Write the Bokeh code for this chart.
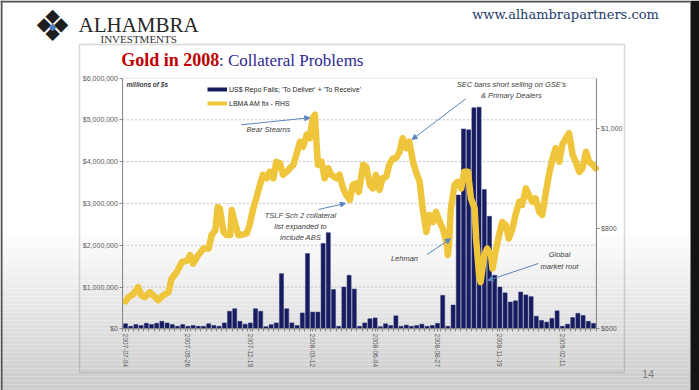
import numpy as np
import pandas as pd
from bokeh.plotting import figure
from bokeh.models import (Range1d, LinearAxis, FixedTicker, NumeralTickFormatter, Label,
                          Arrow, NormalHead, BoxAnnotation, Legend, LegendItem, ColumnDataSource)
from bokeh.embed import file_html
from bokeh.resources import INLINE

# ---------------- data ----------------
start_date = "2007-07-04"
n_weeks = 91
# US$ repo fails (millions of $), weekly from 2007-07-04
repo_fails_mm = [0.12, 0.06, 0.10, 0.08, 0.13, 0.10, 0.13, 0.18, 0.14, 0.10,
                 0.06, 0.10, 0.06, 0.08, 0.06, 0.06, 0.12, 0.08, 0.06, 0.14,
                 0.42, 0.48, 0.18, 0.11, 0.14, 0.48, 0.42, 0.05, 0.10, 0.14,
                 1.32, 0.48, 0.14, 0.08, 0.38, 1.80, 0.40, 0.40, 2.04, 2.30,
                 0.94, 0.06, 1.00, 1.28, 0.95, 0.06, 0.14, 0.24, 0.26, 0.05,
                 0.12, 0.08, 0.31, 0.06, 0.09, 0.06, 0.08, 0.11, 0.06, 0.08,
                 0.13, 0.80, 0.06, 0.57, 3.20, 4.78, 4.76, 5.29, 5.30, 3.33,
                 2.69, 1.28, 1.00, 0.86, 0.64, 0.67, 0.88, 0.81, 0.77, 0.30,
                 0.20, 0.16, 0.25, 0.43, 0.06, 0.11, 0.27, 0.37, 0.32, 0.18, 0.13]

gold_dates = [
    "2007-07-04", "2007-07-08", "2007-07-15", "2007-07-21", "2007-07-25", "2007-07-30",
    "2007-08-06", "2007-08-10", "2007-08-17", "2007-08-24", "2007-08-31",
    "2007-09-04", "2007-09-11", "2007-09-18", "2007-09-25", "2007-09-29",
    "2007-10-03", "2007-10-10", "2007-10-17", "2007-10-24", "2007-10-28",
    "2007-11-02", "2007-11-05", "2007-11-08", "2007-11-13", "2007-11-17", "2007-11-22", "2007-11-24", "2007-11-28",
    "2007-12-03", "2007-12-07", "2007-12-14", "2007-12-18", "2007-12-23", "2007-12-27",
    "2008-01-01", "2008-01-05", "2008-01-10", "2008-01-14", "2008-01-19", "2008-01-23", "2008-01-28",
    "2008-02-01", "2008-02-06", "2008-02-10", "2008-02-15", "2008-02-19", "2008-02-24", "2008-02-28",
    "2008-03-04", "2008-03-08", "2008-03-12", "2008-03-15", "2008-03-17", "2008-03-19", "2008-03-24", "2008-03-28",
    "2008-04-02", "2008-04-06", "2008-04-13", "2008-04-17", "2008-04-22", "2008-04-26",
    "2008-05-01", "2008-05-05", "2008-05-09", "2008-05-13", "2008-05-19", "2008-05-23", "2008-05-28",
    "2008-06-01", "2008-06-05", "2008-06-10", "2008-06-14", "2008-06-19", "2008-06-23", "2008-06-28",
    "2008-07-02", "2008-07-07", "2008-07-11", "2008-07-16", "2008-07-20", "2008-07-25", "2008-07-29",
    "2008-08-03", "2008-08-07", "2008-08-12", "2008-08-16", "2008-08-21", "2008-08-25", "2008-08-30",
    "2008-09-03", "2008-09-08", "2008-09-10", "2008-09-12", "2008-09-14", "2008-09-19", "2008-09-23", "2008-09-28",
    "2008-10-02", "2008-10-07", "2008-10-11", "2008-10-16", "2008-10-18", "2008-10-22", "2008-10-24", "2008-10-29",
    "2008-11-02", "2008-11-07", "2008-11-09", "2008-11-13", "2008-11-18", "2008-11-22", "2008-11-27",
    "2008-12-01", "2008-12-06", "2008-12-10", "2008-12-15", "2008-12-19", "2008-12-24", "2008-12-28",
    "2009-01-02", "2009-01-06", "2009-01-11", "2009-01-15", "2009-01-20", "2009-01-24", "2009-01-29",
    "2009-02-02", "2009-02-07", "2009-02-11", "2009-02-16", "2009-02-20", "2009-02-25",
    "2009-03-01", "2009-03-06", "2009-03-10", "2009-03-15", "2009-03-19", "2009-03-24", "2009-03-28"]
gold_price = [655, 663, 670, 683, 667, 663,
              673, 667, 657, 667, 673,
              700, 713, 733, 736, 747,
              730, 747, 760, 760, 787,
              797, 843, 840, 793, 787, 787, 837, 813,
              787, 787, 790, 807, 840, 860,
              887, 907, 900, 913, 900, 933, 930,
              907, 913, 920, 927, 947, 973, 963,
              987, 980, 1020, 1027, 973, 927, 933, 900,
              920, 907, 900, 907, 880, 867,
              857, 887, 890, 873, 927, 923, 887,
              880, 907, 877, 900, 903, 927, 940,
              940, 953, 980, 960, 973, 933, 913,
              893, 840, 793, 827, 813, 833, 813,
              800, 773, 747, 780, 840, 887, 893, 880,
              913, 913, 860, 840, 780, 707, 693, 747,
              760, 747, 720, 753, 787, 813, 807,
              780, 800, 827, 853, 847, 880, 867,
              853, 860, 833, 827, 873, 907, 940,
              960, 933, 967, 980, 990, 947,
              933, 913, 920, 953, 933, 927, 920]

x_tick_labels = ["2007-07-04", "2007-09-26", "2007-12-19", "2008-03-12",
                 "2008-06-04", "2008-08-27", "2008-11-19", "2009-02-11"]
left_ticks = [0, 1e6, 2e6, 3e6, 4e6, 5e6, 6e6]
right_ticks = [600, 800, 1000]
left_lim = (0, 6e6)
right_lim = (600, 1100)

# ---------------- derived ----------------
week_dates = pd.date_range(start_date, periods=n_weeks, freq="7D")
weeks = list(range(n_weeks))
fails = [v * 1_000_000 for v in repo_fails_mm]
t0 = pd.Timestamp(start_date)
gold_week = [(pd.Timestamp(d) - t0).days / 7.0 for d in gold_dates]
tick_pos = [int(np.where(week_dates == pd.Timestamp(s))[0][0]) for s in x_tick_labels]

# ---------------- page geometry (pixels) ----------------
W, H = 699, 390
PL, PR, PT, PB = 122.4, 595.6, 77.5, 328.3     # chart plot area on the slide
xlo, xhi = -0.5, n_weeks - 0.5
kx = (xhi - xlo) / (PR - PL)
ky = (left_lim[1] - left_lim[0]) / (PB - PT)
kg = (right_lim[1] - right_lim[0]) / (PB - PT)
BASE_FIX = 0.28   # baseline correction (fraction of font size) for "alphabetic" labels

p = figure(width=W, height=H, output_backend="svg", toolbar_location=None,
           x_range=Range1d(xlo - PL * kx, xhi + (W - PR) * kx),
           y_range=Range1d(left_lim[0] - (H - PB) * ky, left_lim[1] + PT * ky),
           min_border=0, background_fill_color="white", border_fill_color="white",
           outline_line_color=None)
p.extra_y_ranges = {"gold": Range1d(right_lim[0] - (H - PB) * kg, right_lim[1] + PT * kg)}
p.xgrid.visible = False
p.ygrid.visible = False

def canvas_box(l, r, t, b, **kw):
    return BoxAnnotation(left=l, right=r, top=t, bottom=b,
                         left_units="canvas", right_units="canvas",
                         top_units="canvas", bottom_units="canvas", **kw)

# slide background gradient (bottom part) and screen edges
for cy in range(200, H, 4):
    ry = cy + 2
    L = 255 if ry < 230 else max(198, int(round(255 - (ry - 230) * 0.33)))
    col = "#%02x%02x%02x" % (L, L, L)
    p.add_layout(canvas_box(0, W, cy, cy + 4, fill_color=col, fill_alpha=1,
                            line_color=None, level="image"))
p.add_layout(canvas_box(690, W, 0, H, fill_color="#141414", fill_alpha=1, line_color=None, level="image"))
p.add_layout(canvas_box(0, 690, 0, 2, fill_color="#505050", fill_alpha=1, line_color=None, level="image"))
p.add_layout(canvas_box(0, 2, 0, H, fill_color="#505050", fill_alpha=1, line_color=None, level="image"))

# slide content frame
p.add_layout(canvas_box(79, 624, 44, 372, fill_alpha=0, line_color="#7f7f7f",
                        line_width=1.5, level="annotation"))

# chart outline
p.add_layout(BoxAnnotation(left=xlo, right=xhi, bottom=left_lim[0], top=left_lim[1],
                           fill_alpha=0, line_color="#a8a8a8", line_width=1, level="underlay"))

# dashed gridlines
grid_vals = left_ticks[1:-1]
p.segment(x0=[xlo] * len(grid_vals), x1=[xhi] * len(grid_vals), y0=grid_vals, y1=grid_vals,
          line_color="#c2c2c2", line_dash="2 2", line_width=1)

# bars
p.vbar(x=weeks, top=fails, width=0.78, fill_color="#171c5e", line_color="#2a3478", line_width=0.5)
# gold line
GOLD = "#efc53c"
p.line(gold_week, gold_price, y_range_name="gold", line_width=6.5, color=GOLD,
       line_join="round", line_cap="round")

# axes (drawn at fixed locations around the chart area)
TICK_FONT = "Liberation Sans"
yl = p.yaxis[0]
yl.fixed_location = xlo
yl.bounds = left_lim
yl.ticker = FixedTicker(ticks=left_ticks)
yl.formatter = NumeralTickFormatter(format="$0,0")
yr = LinearAxis(y_range_name="gold", ticker=FixedTicker(ticks=right_ticks),
                formatter=NumeralTickFormatter(format="$0,0"),
                fixed_location=xhi, bounds=right_lim)
p.add_layout(yr, "right")
for ax in (yl, yr):
    ax.major_label_text_font = TICK_FONT
    ax.major_label_text_font_size = "7px"
    ax.major_label_text_color = "#595959"
    ax.axis_line_color = "#8a8a8a"
    ax.major_tick_line_color = "#8a8a8a"
    ax.major_tick_in = 0
    ax.major_tick_out = 3
    ax.minor_tick_line_color = None
    ax.major_label_standoff = 2

xa = p.xaxis[0]
xa.fixed_location = left_lim[0]
xa.bounds = (xlo, xhi)
xa.ticker = FixedTicker(ticks=tick_pos, minor_ticks=[i - 0.5 for i in range(n_weeks + 1)])
xa.major_label_overrides = {pos: lab for pos, lab in zip(tick_pos, x_tick_labels)}
xa.major_label_orientation = "vertical"
xa.major_label_text_font = TICK_FONT
xa.major_label_text_font_size = "6.5px"
xa.major_label_text_color = "#595959"
xa.axis_line_color = "#8a8a8a"
xa.major_tick_line_color = "#8a8a8a"
xa.minor_tick_line_color = "#8a8a8a"
xa.major_tick_in = 0
xa.major_tick_out = 3
xa.minor_tick_in = 0
xa.minor_tick_out = 3
xa.major_label_standoff = 2

# legend (swatch renderers hold a single NaN point, so they draw nothing)
nan_src = ColumnDataSource(data=dict(x=[0.0], y=[float("nan")]))
leg_bar = p.line("x", "y", source=nan_src, line_color="#171c5e", line_width=4)
leg_gold = p.line("x", "y", source=nan_src, line_color=GOLD, line_width=4)
legend = Legend(items=[LegendItem(label="US$ Repo Fails; 'To Deliver' + 'To Receive'", renderers=[leg_bar]),
                       LegendItem(label="LBMA AM fix - RHS", renderers=[leg_gold])],
                location=(207, H - 108.3), glyph_width=20, glyph_height=10, label_height=10,
                spacing=4, padding=0, margin=0, label_standoff=2,
                label_text_font=TICK_FONT, label_text_font_size="7px", label_text_color="#262626",
                background_fill_alpha=0, border_line_alpha=0)
p.add_layout(legend)

# in-chart annotations (data coordinates)
ANN_FS = 7.5
ANN = dict(text_font=TICK_FONT, text_font_size=f"{ANN_FS}px", text_font_style="italic",
           text_color="#404040", text_align="center", text_baseline="alphabetic")
p.add_layout(Label(x=0.19, y=5.81e6 + BASE_FIX * 6.5 * ky, text="millions of $s", text_font=TICK_FONT,
                   text_font_size="6.5px", text_font_style="bold italic", text_color="#404040",
                   text_align="left", text_baseline="alphabetic"))
notes = [(27.5, 4.72e6, "Bear Stearns"),
         (33.65, 2.667e6, "TSLF Sch 2 collateral"),
         (33.65, 2.394e6, "list expanded to"),
         (33.65, 2.129e6, "include ABS"),
         (74.2, 5.785e6, "SEC bans short selling on GSE's"),
         (74.2, 5.533e6, "& Primary Dealers"),
         (53.65, 1.634e6, "Lehman"),
         (83.46, 1.73e6, "Global"),
         (83.46, 1.443e6, "market rout")]
for x, y, t in notes:
    p.add_layout(Label(x=x, y=y + BASE_FIX * ANN_FS * ky, text=t, **ANN))

ARROW_C = "#5b86c0"
arrows = [(22.25, 4.88e6, 35.44, 5.05e6),
          (37.1, 2.854e6, 42.3, 3.0e6),
          (65.4, 5.50e6, 55.13, 4.53e6),
          (58.0, 1.778e6, 62.5, 2.153e6),
          (79.4, 1.562e6, 69.67, 1.156e6)]
for xs, ys, xe, ye in arrows:
    p.add_layout(Arrow(end=NormalHead(size=5, fill_color=ARROW_C, line_color=ARROW_C),
                       x_start=xs, y_start=ys, x_end=xe, y_end=ye,
                       line_color=ARROW_C, line_width=1))

# slide header / footer texts (screen units, y measured from the bottom)
def slabel(cx, cy, text, fs, **kw):
    shift = BASE_FIX * fs if kw.get("text_baseline") == "alphabetic" else 0
    p.add_layout(Label(x=cx, y=H - cy + shift, x_units="screen", y_units="screen", text=text,
                       text_font_size=f"{fs}px", **kw))

slabel(52, 25.5, "❖", 43, text_font="DejaVu Sans", text_color="#1e1e1e",
       text_align="center", text_baseline="middle")
slabel(52, 25.5, "◆", 10, text_font="DejaVu Sans", text_color="#5080c0",
       text_align="center", text_baseline="middle")
slabel(78, 30.7, "ALHAMBRA", 21, text_font="Liberation Serif",
       text_color="#262626", text_baseline="alphabetic")
slabel(100, 41.7, "INVESTMENTS", 11, text_font="Liberation Serif",
       text_color="#333333", text_baseline="alphabetic")
slabel(471.7, 17.3, "www.alhambrapartners.com", 13, text_font="DejaVu Serif",
       text_color="#1f3b6b", text_baseline="alphabetic")
slabel(120.7, 65, "Gold in 2008", 18, text_font="Liberation Serif",
       text_font_style="bold", text_color="#c00000", text_baseline="alphabetic")
slabel(218.5, 65, ": Collateral Problems", 17, text_font="Liberation Serif",
       text_color="#2f2a8f", text_baseline="alphabetic")
slabel(647.5, 377, "14", 11, text_font="Liberation Sans",
       text_color="#7f7f7f", text_align="center", text_baseline="alphabetic")

open("out.html", "w").write(file_html(p, INLINE))
